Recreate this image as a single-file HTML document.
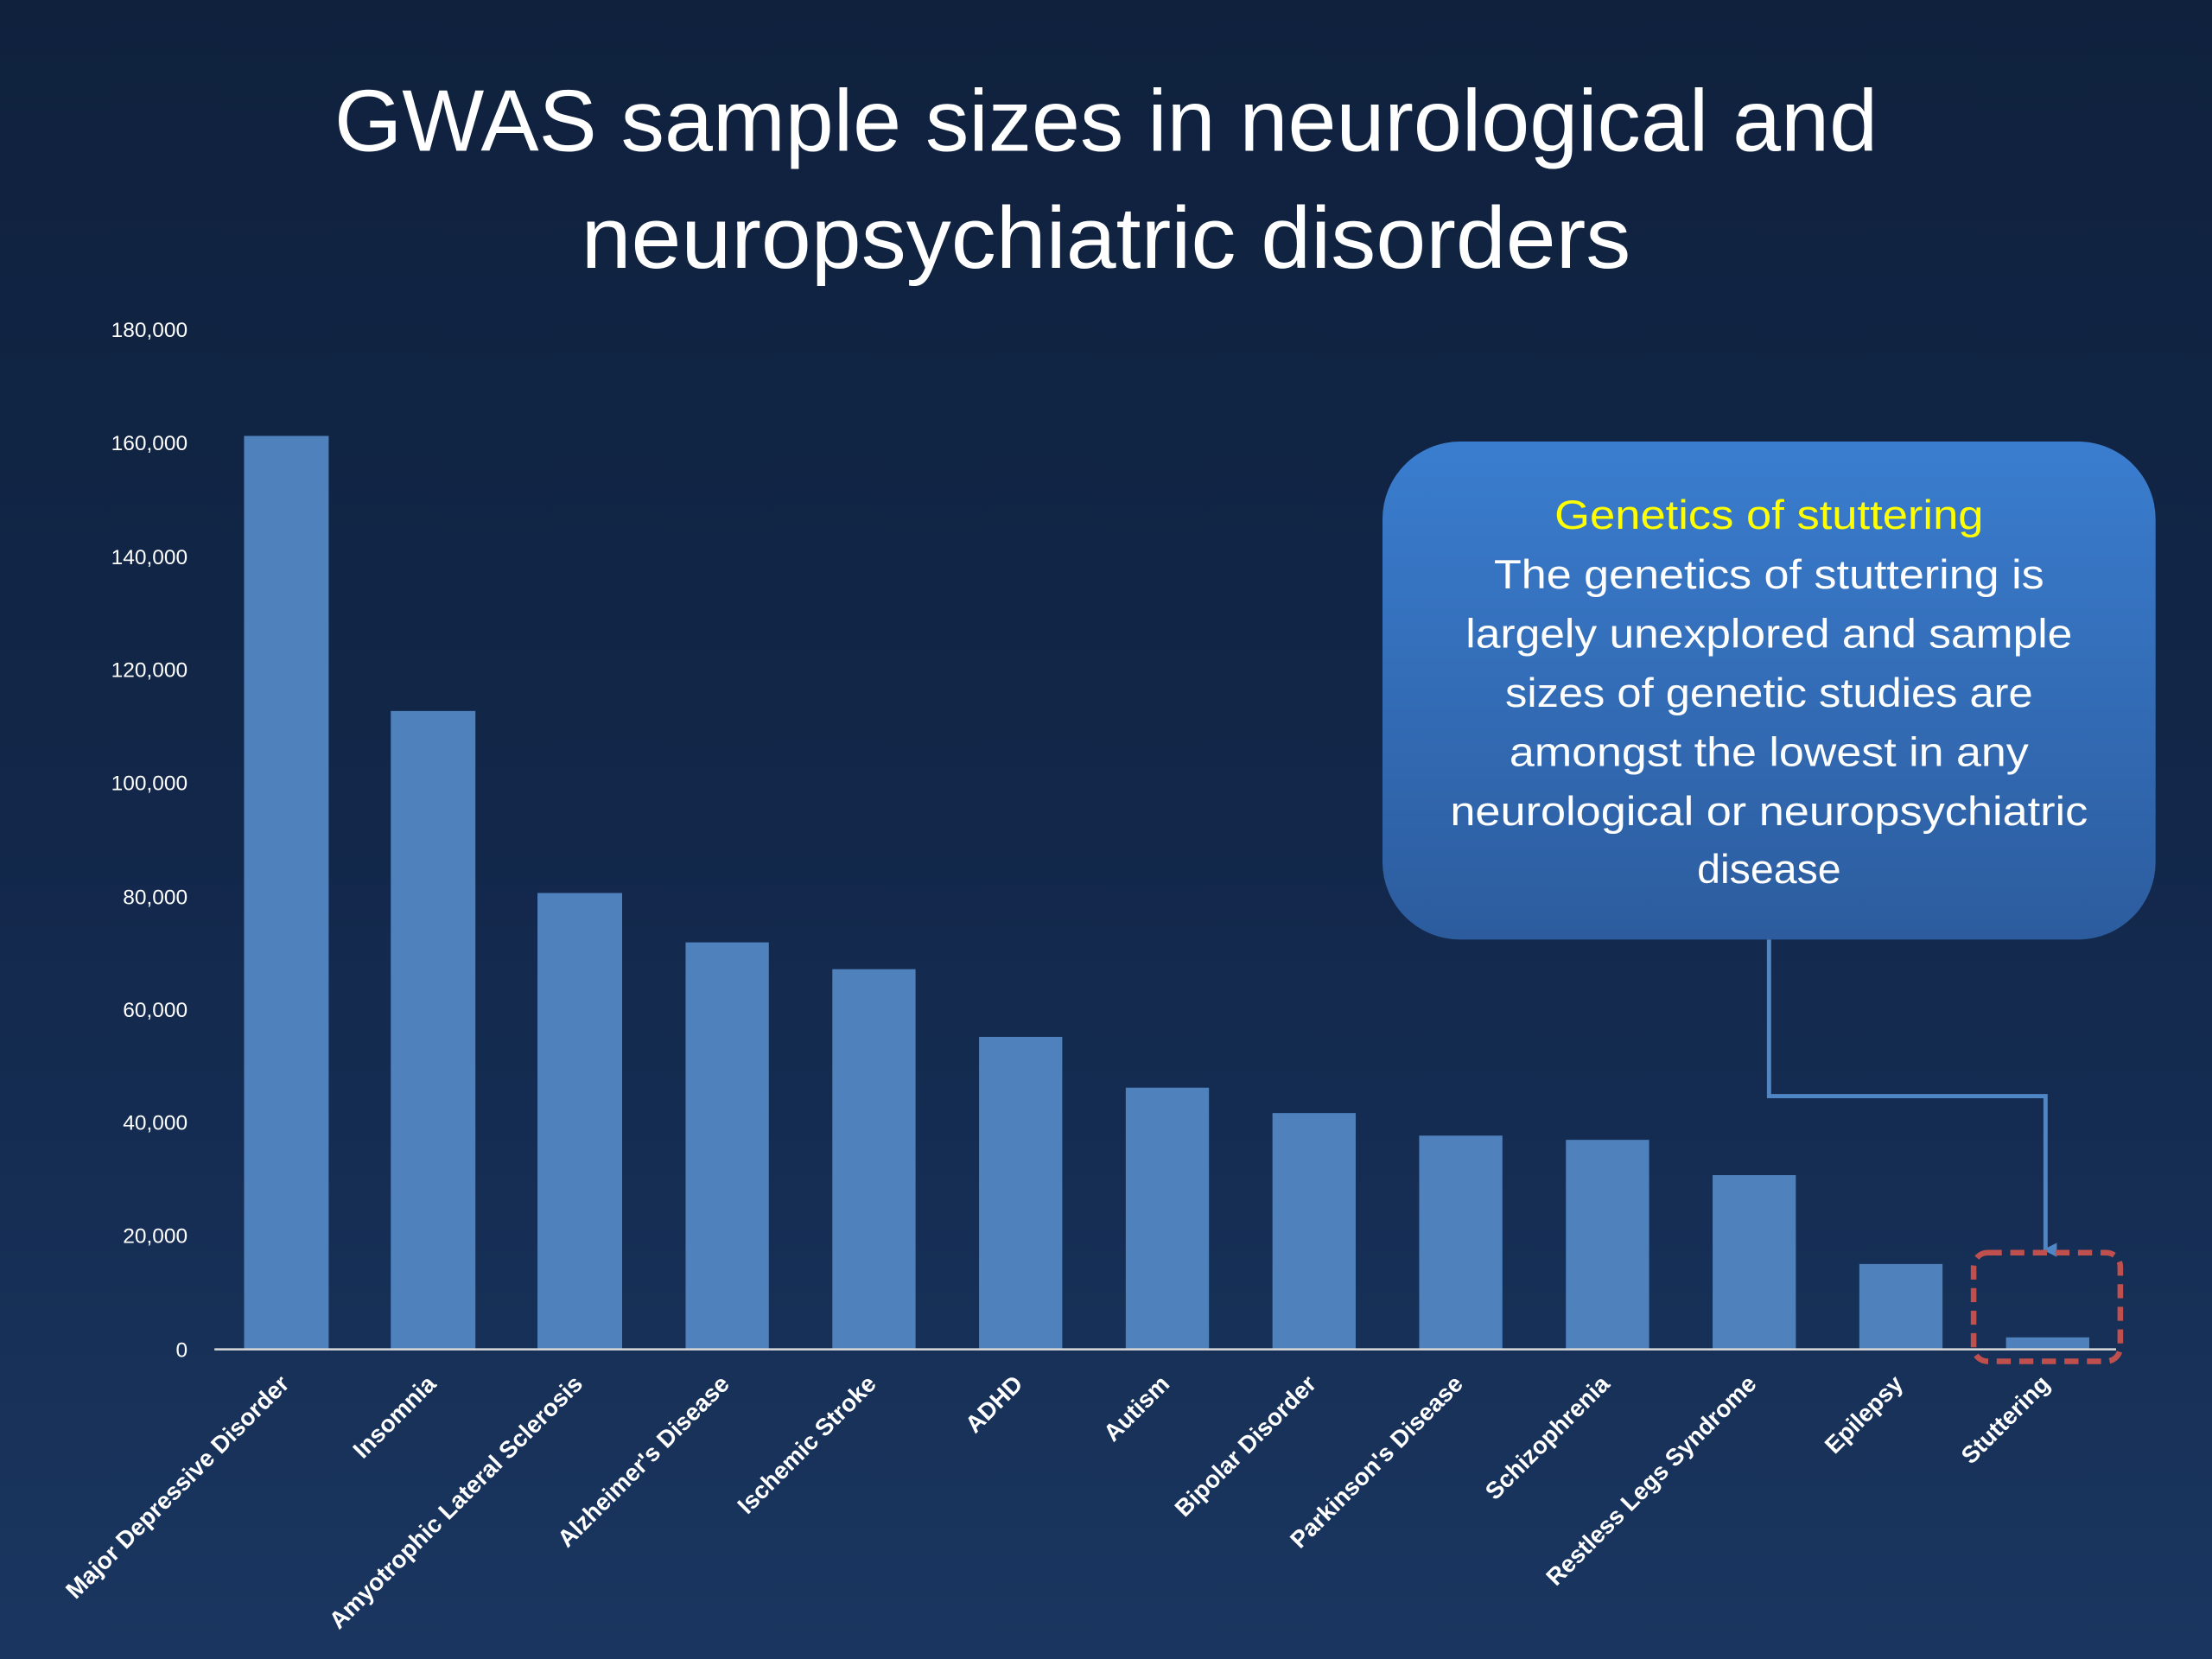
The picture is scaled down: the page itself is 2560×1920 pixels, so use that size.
<!DOCTYPE html>
<html><head><meta charset="utf-8"><style>
html,body{margin:0;padding:0;width:2560px;height:1920px;overflow:hidden;background:#13284a}
svg{display:block}
</style></head><body>
<svg width="2560" height="1920" viewBox="0 0 1568 1176" xmlns="http://www.w3.org/2000/svg" font-family="Liberation Sans, sans-serif">
<defs>
<linearGradient id="bg" x1="0" y1="0" x2="0" y2="1"><stop offset="0" stop-color="#0f213d"/><stop offset="0.5" stop-color="#12274a"/><stop offset="1" stop-color="#1a3660"/></linearGradient>
<linearGradient id="cb" x1="0" y1="0" x2="0" y2="1"><stop offset="0" stop-color="#3a7dcf"/><stop offset="1" stop-color="#2c5c9e"/></linearGradient>
<marker id="ar" markerWidth="10" markerHeight="10" refX="5" refY="8" orient="auto" markerUnits="userSpaceOnUse"><path d="M0,0 L10,0 L5,10 z" fill="#4f86c6"/></marker>
</defs>
<rect width="1568" height="1176" fill="url(#bg)"/>
<g fill="#fff" font-size="62" text-anchor="middle">
<text x="784" y="107" textLength="1094" lengthAdjust="spacingAndGlyphs">GWAS sample sizes in neurological and</text>
<text x="784" y="190" textLength="744" lengthAdjust="spacingAndGlyphs">neuropsychiatric disorders</text>
</g>
<g fill="#fff" font-size="15" text-anchor="end">
<text x="133" y="239">180,000</text><text x="133" y="319">160,000</text><text x="133" y="400">140,000</text>
<text x="133" y="480">120,000</text><text x="133" y="560">100,000</text><text x="133" y="641">80,000</text>
<text x="133" y="721">60,000</text><text x="133" y="801">40,000</text><text x="133" y="881">20,000</text>
<text x="133" y="962">0</text>
</g>
<g fill="#4f81bd">
<rect x="173" y="309" width="60" height="647"/>
<rect x="277" y="504" width="60" height="452"/>
<rect x="381" y="633" width="60" height="323"/>
<rect x="486" y="668" width="59" height="288"/>
<rect x="590" y="687" width="59" height="269"/>
<rect x="694" y="735" width="59" height="221"/>
<rect x="798" y="771" width="59" height="185"/>
<rect x="902" y="789" width="59" height="167"/>
<rect x="1006" y="805" width="59" height="151"/>
<rect x="1110" y="808" width="59" height="148"/>
<rect x="1214" y="833" width="59" height="123"/>
<rect x="1318" y="896" width="59" height="60"/>
<rect x="1422" y="948" width="59" height="8"/>
</g>
<line x1="152" y1="956.5" x2="1500" y2="956.5" stroke="#d9d9d9" stroke-width="1.5"/>
<g fill="#fff" font-size="17" font-weight="bold" text-anchor="end">
<text transform="translate(206,982) rotate(-45)">Major Depressive Disorder</text>
<text transform="translate(310,982) rotate(-45)">Insomnia</text>
<text transform="translate(414,982) rotate(-45)">Amyotrophic Lateral Sclerosis</text>
<text transform="translate(518,982) rotate(-45)">Alzheimer's Disease</text>
<text transform="translate(622,982) rotate(-45)">Ischemic Stroke</text>
<text transform="translate(726,982) rotate(-45)">ADHD</text>
<text transform="translate(830,982) rotate(-45)">Autism</text>
<text transform="translate(934,982) rotate(-45)">Bipolar Disorder</text>
<text transform="translate(1038,982) rotate(-45)">Parkinson's Disease</text>
<text transform="translate(1142,982) rotate(-45)">Schizophrenia</text>
<text transform="translate(1246,982) rotate(-45)">Restless Legs Syndrome</text>
<text transform="translate(1350,982) rotate(-45)">Epilepsy</text>
<text transform="translate(1454,982) rotate(-45)">Stuttering</text>
</g>
<polyline points="1254,666 1254,777 1450,777 1450,886" fill="none" stroke="#4f86c6" stroke-width="3" marker-end="url(#ar)"/>
<rect x="980" y="313" width="548" height="353" rx="55" fill="url(#cb)"/>
<g font-size="29" text-anchor="middle" fill="#fff">
<text x="1254" y="375" fill="#ffff00" textLength="304" lengthAdjust="spacingAndGlyphs">Genetics of stuttering</text>
<text x="1254" y="417" textLength="390" lengthAdjust="spacingAndGlyphs">The genetics of stuttering is</text>
<text x="1254" y="459" textLength="430" lengthAdjust="spacingAndGlyphs">largely unexplored and sample</text>
<text x="1254" y="501" textLength="374" lengthAdjust="spacingAndGlyphs">sizes of genetic studies are</text>
<text x="1254" y="543" textLength="368" lengthAdjust="spacingAndGlyphs">amongst the lowest in any</text>
<text x="1254" y="585" textLength="452" lengthAdjust="spacingAndGlyphs">neurological or neuropsychiatric</text>
<text x="1254" y="626" textLength="102" lengthAdjust="spacingAndGlyphs">disease</text>
</g>
<rect x="1399" y="888" width="104" height="77" rx="10" fill="none" stroke="#c0504d" stroke-width="4" stroke-dasharray="10,6"/>
</svg>
</body></html>
